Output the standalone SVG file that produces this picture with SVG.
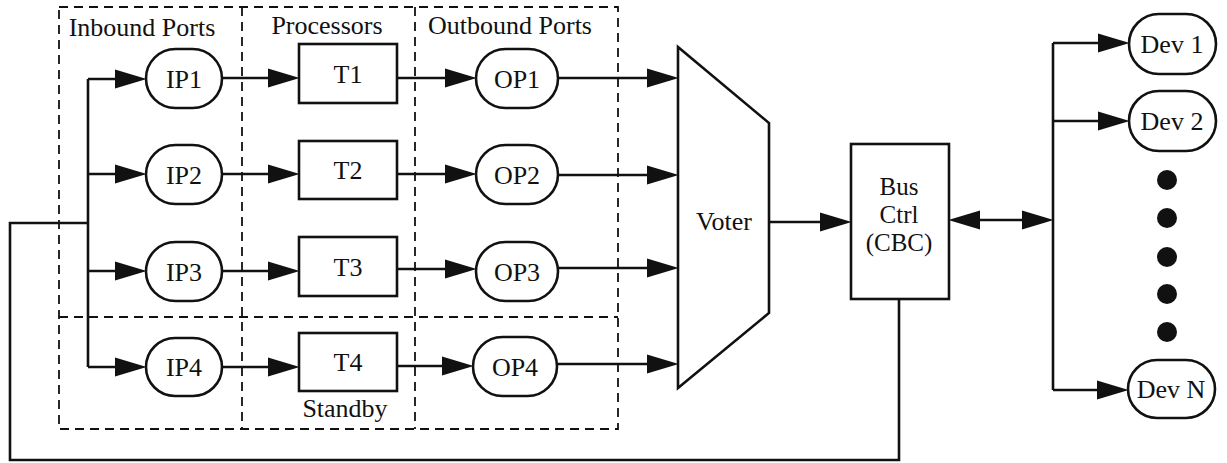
<svg xmlns="http://www.w3.org/2000/svg" width="1227" height="463" viewBox="0 0 1227 463">
<style>
text{font-family:"Liberation Serif","Times New Roman",serif;font-size:26px;fill:#111;text-anchor:middle}
.n{fill:#fff;stroke:#111;stroke-width:2.6}
.c{fill:none;stroke:#111;stroke-width:2.6}
.a{marker-end:url(#ah)}
.d{fill:none;stroke:#111;stroke-width:1.8;stroke-dasharray:9 6}
.dot{fill:#111}
.s{font-size:25px}
</style>
<defs>
<marker id="ah" markerUnits="userSpaceOnUse" markerWidth="32" markerHeight="20" refX="20" refY="9" orient="auto-start-reverse" viewBox="0 0 30 18">
<path d="M0,0 L30,9 L0,18 z" fill="#111"/>
</marker>
</defs>
<rect width="1227" height="463" fill="#fff"/>
<g id="groups">
<rect class="d" x="59" y="7" width="559" height="422"/>
<line class="d" x1="242" y1="7" x2="242" y2="429"/>
<line class="d" x1="415" y1="7" x2="415" y2="429"/>
<line class="d" x1="59" y1="317" x2="618" y2="317"/>
<text x="142" y="36">Inbound Ports</text>
<text x="327" y="34">Processors</text>
<text x="510" y="34">Outbound Ports</text>
<text x="345" y="417">Standby</text>
</g>
<g id="connectors">
<path class="c" d="M899 299 V460 H10 V223 H88"/>
<path class="c" d="M88 79 V367"/>
<path class="c a" d="M88 79 H136"/>
<path class="c a" d="M88 174 H136"/>
<path class="c a" d="M88 271 H136"/>
<path class="c a" d="M88 367 H136"/>
<path class="c a" d="M222 78 H289"/>
<path class="c a" d="M222 174 H289"/>
<path class="c a" d="M222 271 H289"/>
<path class="c a" d="M222 367 H289"/>
<path class="c a" d="M397 78 H466"/>
<path class="c a" d="M397 174 H466"/>
<path class="c a" d="M397 269 H466"/>
<path class="c a" d="M397 366 H463"/>
<path class="c a" d="M558 78 H668"/>
<path class="c a" d="M558 175 H668"/>
<path class="c a" d="M558 268 H668"/>
<path class="c a" d="M557 364 H668"/>
<path class="c a" d="M769 222 H841"/>
<path class="c" d="M959 220 H1043" marker-start="url(#ah)" marker-end="url(#ah)"/>
<path class="c" d="M1053 43 V390"/>
<path class="c a" d="M1053 43 H1119"/>
<path class="c a" d="M1053 121 H1119"/>
<path class="c a" d="M1053 390 H1118"/>
</g>
<g id="IP1"><rect class="n" x="146" y="49" width="76" height="59" rx="29.5"/><text x="184" y="88">IP1</text></g>
<g id="IP2"><rect class="n" x="146" y="145" width="76" height="59" rx="29.5"/><text x="184" y="184">IP2</text></g>
<g id="IP3"><rect class="n" x="146" y="242" width="76" height="59" rx="29.5"/><text x="184" y="281">IP3</text></g>
<g id="IP4"><rect class="n" x="146" y="338" width="76" height="58" rx="29"/><text x="184" y="376">IP4</text></g>
<g id="T1"><rect class="n" x="299" y="44" width="98" height="59"/><text x="348" y="83">T1</text></g>
<g id="T2"><rect class="n" x="299" y="141" width="98" height="58"/><text x="348" y="179">T2</text></g>
<g id="T3"><rect class="n" x="299" y="237" width="98" height="59"/><text x="348" y="276">T3</text></g>
<g id="T4"><rect class="n" x="299" y="333" width="98" height="58"/><text x="348" y="371">T4</text></g>
<g id="OP1"><rect class="n" x="476" y="49" width="82" height="59" rx="29.5"/><text x="517" y="88">OP1</text></g>
<g id="OP2"><rect class="n" x="476" y="145" width="82" height="59" rx="29.5"/><text x="517" y="184">OP2</text></g>
<g id="OP3"><rect class="n" x="476" y="242" width="82" height="59" rx="29.5"/><text x="517" y="281">OP3</text></g>
<g id="OP4"><rect class="n" x="473" y="337" width="84" height="59" rx="29.5"/><text x="515" y="376">OP4</text></g>
<g id="Voter"><polygon class="n" points="678,47 769,123 769,313 678,388"/><text x="724" y="230">Voter</text></g>
<g id="BusCtrl"><rect class="n" x="851" y="144" width="98" height="155"/><text class="s" x="899" y="195">Bus</text><text class="s" x="899" y="223">Ctrl</text><text class="s" x="899" y="251">(CBC)</text></g>
<g id="Dev1"><rect class="n" x="1129" y="14" width="87" height="60" rx="30"/><text x="1172" y="53">Dev 1</text></g>
<g id="Dev2"><rect class="n" x="1129" y="91" width="87" height="60" rx="30"/><text x="1172" y="130">Dev 2</text></g>
<g id="DevN"><rect class="n" x="1128" y="360" width="87" height="58" rx="29"/><text x="1171" y="398">Dev N</text></g>
<g id="ellipsis">
<circle class="dot" cx="1167" cy="180" r="10"/>
<circle class="dot" cx="1167" cy="218" r="10"/>
<circle class="dot" cx="1167" cy="257" r="10"/>
<circle class="dot" cx="1167" cy="294" r="10"/>
<circle class="dot" cx="1167" cy="332" r="10"/>
</g>
</svg>
